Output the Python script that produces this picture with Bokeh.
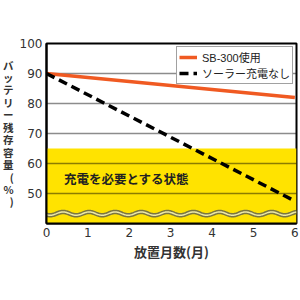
from bokeh.plotting import figure
from bokeh.models import Label, Range1d, FixedTicker, Legend, LegendItem
from bokeh.embed import file_html
from bokeh.resources import INLINE
import numpy as np

# ---- data ----
months = [0, 6]
sb300 = [90, 82]
no_solar = [90, 47.5]
series_names = ["SB-300使用", "ソーラー充電なし"]
x_ticks = [0, 1, 2, 3, 4, 5, 6]
y_ticks = [50, 60, 70, 80, 90, 100]
zone_top = 65           # charging needed zone upper bound
zone_bottom = 40
zone_label = "充電を必要とする状態"
x_title = "放置月数(月)"
y_title = "バッテリー残存容量(%)"

# axis-break wave decoration parameters
wave_level = 43.3
wave_amp = 0.55
wave_period = 0.63
wave_phase = 0.4

JP = "Noto Sans CJK JP"
MIX = "Liberation Sans, Noto Sans CJK JP"

p = figure(width=300, height=300, output_backend="svg", toolbar_location=None,
           x_range=Range1d(0, 6.04), y_range=Range1d(40, 100),
           min_border_left=46, min_border_right=4, min_border_top=43, min_border_bottom=77)
p.background_fill_color = "white"
p.border_fill_color = "white"
p.outline_line_color = "black"
p.outline_line_width = 2

# yellow zone (below the grid)
p.quad(left=[0], right=[6.04], bottom=[zone_bottom], top=[zone_top],
       fill_color="#FFE300", line_color=None, level="image")

# grid
p.xgrid.grid_line_color = None
p.ygrid.ticker = FixedTicker(ticks=[50, 60, 70, 80, 90])
p.ygrid.grid_line_color = "black"
p.ygrid.grid_line_alpha = 0.45
p.ygrid.grid_line_width = 1.5

# axes
for ax in (p.xaxis[0], p.yaxis[0]):
    ax.axis_line_color = "black"
    ax.axis_line_width = 2
    ax.major_tick_line_color = None
    ax.minor_tick_line_color = None
    ax.major_tick_out = 0
    ax.major_tick_in = 0
    ax.minor_tick_out = 0
    ax.minor_tick_in = 0
    ax.major_label_text_font = "DejaVu Sans"
    ax.major_label_text_font_size = "12px"
    ax.major_label_text_color = "#333333"
    ax.axis_label_text_font = JP
    ax.axis_label_text_font_style = "bold"
    ax.axis_label_text_color = "#333333"
p.xaxis.ticker = FixedTicker(ticks=x_ticks)
p.yaxis.ticker = FixedTicker(ticks=y_ticks)
p.xaxis.major_label_standoff = 4
p.yaxis.major_label_standoff = 4

p.xaxis.axis_label = x_title
p.xaxis.axis_label_text_font_size = "13px"
p.xaxis.axis_label_standoff = 2

p.yaxis.axis_label = "\n".join(y_title)
p.yaxis.axis_label_orientation = "horizontal"
p.yaxis.axis_label_text_font_size = "10.5px"
p.yaxis.axis_label_text_line_height = 0.83
p.yaxis.axis_label_standoff = 3

# wave break mark
xw = np.linspace(0, 6.04, 400)
yw = wave_level + wave_amp * np.sin(2 * np.pi * (xw - wave_phase) / wave_period + np.pi / 2)
p.line(xw, yw, line_color="#7a7640", line_width=4.5)
p.line(xw, yw, line_color="#ece8a8", line_width=1.5)

# series
r1 = p.line(months, sb300, line_color="#F05A22", line_width=3.5)
r2 = p.line(months, no_solar, line_color="black", line_width=3.5, line_dash="9 5")

legend = Legend(items=[LegendItem(label=series_names[0], renderers=[r1]),
                       LegendItem(label=series_names[1], renderers=[r2])],
                location="top_right")
legend.margin = 3
legend.padding = 2
legend.spacing = 0
legend.glyph_width = 18
legend.glyph_height = 12
legend.label_height = 12
legend.label_standoff = 5
legend.label_text_font = MIX
legend.label_text_font_size = "11px"
legend.label_text_line_height = 1.0
legend.label_text_color = "#222222"
legend.border_line_color = "#444444"
legend.border_line_width = 1
legend.background_fill_alpha = 1
p.add_layout(legend, "center")

# zone label
p.add_layout(Label(x=0.42, y=55.1, text=zone_label, text_font=JP, text_font_size="12.5px",
                   text_font_style="bold", text_color="#222222", text_baseline="middle"))

open("out.html", "w").write(file_html(p, INLINE))
